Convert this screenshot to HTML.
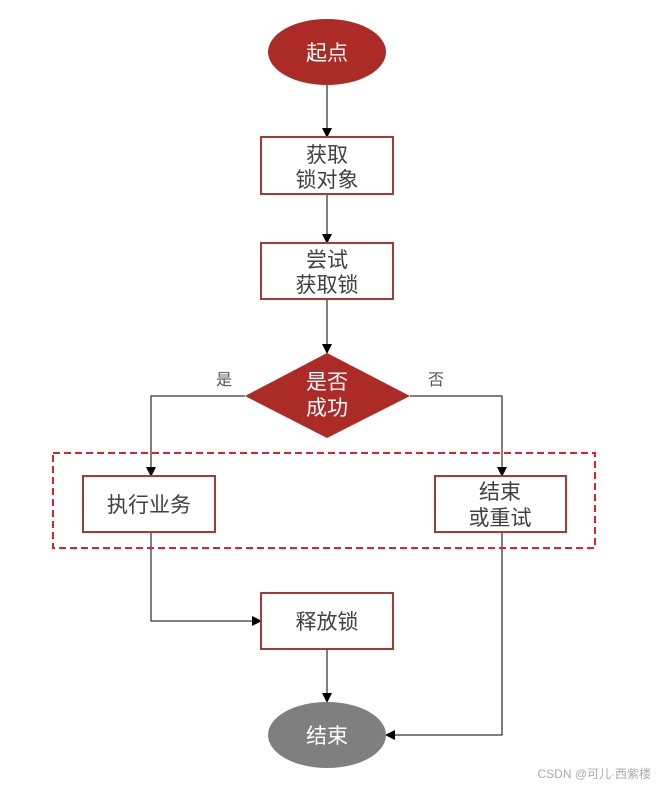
<!DOCTYPE html>
<html><head><meta charset="utf-8"><style>
html,body{margin:0;padding:0;background:#fff;}
svg text{font-family:"Liberation Sans","Noto Sans CJK SC",sans-serif;}
</style></head><body>
<svg width="657" height="786" viewBox="0 0 657 786" xmlns="http://www.w3.org/2000/svg">
<defs><marker id="a" markerWidth="10" markerHeight="10" refX="9" refY="5" orient="auto" markerUnits="userSpaceOnUse"><path d="M0,0 L10,5 L0,10 z" fill="#000"/></marker></defs>
<g stroke="#000" stroke-width="1" fill="none">
<line x1="327" y1="85" x2="327" y2="137" marker-end="url(#a)"/>
<line x1="327" y1="194" x2="327" y2="243" marker-end="url(#a)"/>
<line x1="327" y1="299" x2="327" y2="353" marker-end="url(#a)"/>
<polyline points="245,396 151,396 151,476" marker-end="url(#a)"/>
<polyline points="410,396 502,396 502,476" marker-end="url(#a)"/>
<polyline points="151,532 151,621 261,621" marker-end="url(#a)"/>
<line x1="327" y1="649" x2="327" y2="702" marker-end="url(#a)"/>
<polyline points="502,532 502,735 386,735" marker-end="url(#a)"/>
</g>
<rect x="53" y="453" width="542" height="95" fill="none" stroke="#e0202a" stroke-width="2" stroke-dasharray="7,4"/>
<ellipse cx="327" cy="52" rx="59" ry="33" fill="#ad2b27"/>
<ellipse cx="327" cy="735" rx="59" ry="33" fill="#7f7f7f"/>
<polygon points="327,353 410,396 327,438 245,396" fill="#ad2b27"/>
<g fill="#fff" stroke="#a33a36" stroke-width="2">
<rect x="261" y="137" width="132" height="57"/>
<rect x="261" y="243" width="132" height="56"/>
<rect x="83" y="476" width="132" height="56"/>
<rect x="435" y="476" width="131" height="56"/>
<rect x="261" y="593" width="132" height="56"/>
</g>
<g font-size="21" text-anchor="middle" fill="#404040">
<text x="327" y="60" fill="#fff">起点</text>
<text x="327" y="162">获取</text><text x="327" y="187">锁对象</text>
<text x="327" y="267">尝试</text><text x="327" y="292">获取锁</text>
<text x="327" y="389" fill="#fff">是否</text><text x="327" y="415" fill="#fff">成功</text>
<text x="149" y="512">执行业务</text>
<text x="500" y="499">结束</text><text x="500" y="525">或重试</text>
<text x="327" y="629">释放锁</text>
<text x="327" y="743" fill="#fff">结束</text>
</g>
<g font-size="16" text-anchor="middle" fill="#555">
<text x="224" y="385">是</text><text x="436" y="385">否</text>
</g>
<text x="651" y="778" font-size="12" text-anchor="end" fill="#aaa">CSDN @可儿·西紫楼</text>
</svg>
</body></html>
